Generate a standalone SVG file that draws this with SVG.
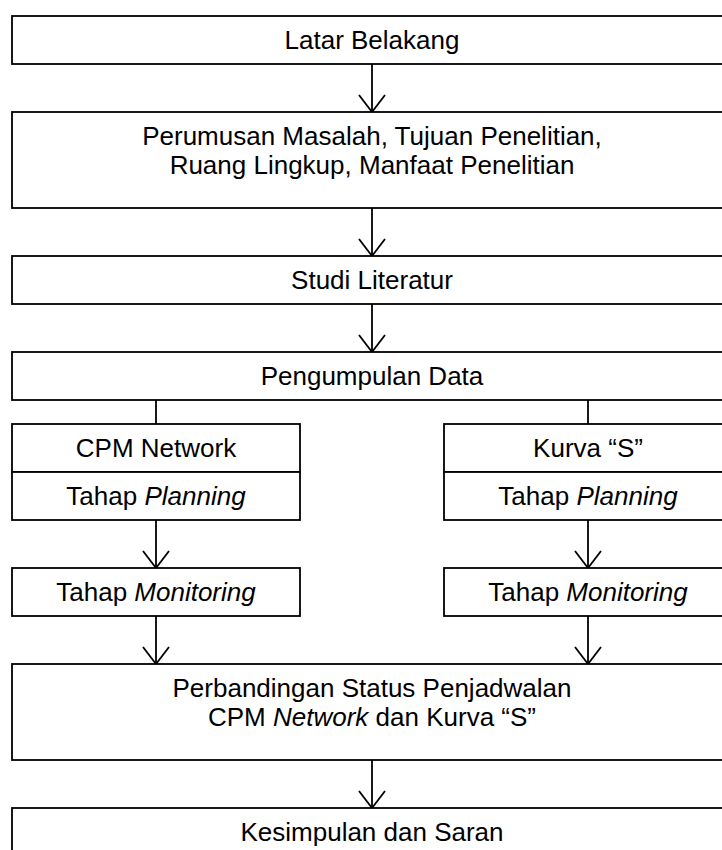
<svg xmlns="http://www.w3.org/2000/svg" width="722" height="850" viewBox="0 0 722 850">
<defs>
<style>
.box{fill:#fff;stroke:#000;stroke-width:1.8}
.t{font-family:"Liberation Sans",Arial,sans-serif;font-size:26px;fill:#000;text-anchor:middle}
.i{font-style:italic}
.c{fill:none;stroke:#000;stroke-width:1.8}
</style>
</defs>
<rect width="722" height="850" fill="#fff"/>
<g id="connectors">
<line class="c" x1="372" y1="64" x2="372" y2="112"/>
<path class="c" d="M359,95 L372,112 L385,95"/>
<line class="c" x1="372" y1="208" x2="372" y2="256"/>
<path class="c" d="M359,239 L372,256 L385,239"/>
<line class="c" x1="372" y1="304" x2="372" y2="352"/>
<path class="c" d="M359,335 L372,352 L385,335"/>
<line class="c" x1="156" y1="400" x2="156" y2="424"/>
<line class="c" x1="588" y1="400" x2="588" y2="424"/>
<line class="c" x1="156" y1="520" x2="156" y2="568"/>
<path class="c" d="M143,551 L156,568 L169,551"/>
<line class="c" x1="588" y1="520" x2="588" y2="568"/>
<path class="c" d="M575,551 L588,568 L601,551"/>
<line class="c" x1="156" y1="616" x2="156" y2="664"/>
<path class="c" d="M143,647 L156,664 L169,647"/>
<line class="c" x1="588" y1="616" x2="588" y2="664"/>
<path class="c" d="M575,647 L588,664 L601,647"/>
<line class="c" x1="372" y1="760" x2="372" y2="808"/>
<path class="c" d="M359,791 L372,808 L385,791"/>
</g>
<g id="latar">
<rect class="box" x="12" y="16" width="720" height="48"/>
<text class="t" x="372" y="49">Latar Belakang</text>
</g>
<g id="perumusan">
<rect class="box" x="12" y="112" width="720" height="96"/>
<text class="t" x="372" y="145">Perumusan Masalah, Tujuan Penelitian,</text>
<text class="t" x="372" y="174">Ruang Lingkup, Manfaat Penelitian</text>
</g>
<g id="studi">
<rect class="box" x="12" y="256" width="720" height="48"/>
<text class="t" x="372" y="289">Studi Literatur</text>
</g>
<g id="pengumpulan">
<rect class="box" x="12" y="352" width="720" height="48"/>
<text class="t" x="372" y="385">Pengumpulan Data</text>
</g>
<g id="cpm">
<rect class="box" x="12" y="424" width="288" height="48"/>
<text class="t" x="156" y="457">CPM Network</text>
</g>
<g id="cpm-planning">
<rect class="box" x="12" y="472" width="288" height="48"/>
<text class="t" x="156" y="505">Tahap <tspan class="i">Planning</tspan></text>
</g>
<g id="kurva">
<rect class="box" x="444" y="424" width="288" height="48"/>
<text class="t" x="588" y="457">Kurva “S”</text>
</g>
<g id="kurva-planning">
<rect class="box" x="444" y="472" width="288" height="48"/>
<text class="t" x="588" y="505">Tahap <tspan class="i">Planning</tspan></text>
</g>
<g id="cpm-monitoring">
<rect class="box" x="12" y="568" width="288" height="48"/>
<text class="t" x="156" y="601">Tahap <tspan class="i">Monitoring</tspan></text>
</g>
<g id="kurva-monitoring">
<rect class="box" x="444" y="568" width="288" height="48"/>
<text class="t" x="588" y="601">Tahap <tspan class="i">Monitoring</tspan></text>
</g>
<g id="perbandingan">
<rect class="box" x="12" y="664" width="720" height="96"/>
<text class="t" x="372" y="697">Perbandingan Status Penjadwalan</text>
<text class="t" x="372" y="726">CPM <tspan class="i">Network</tspan> dan Kurva “S”</text>
</g>
<g id="kesimpulan">
<rect class="box" x="12" y="808" width="720" height="60"/>
<text class="t" x="372" y="841">Kesimpulan dan Saran</text>
</g>
</svg>
